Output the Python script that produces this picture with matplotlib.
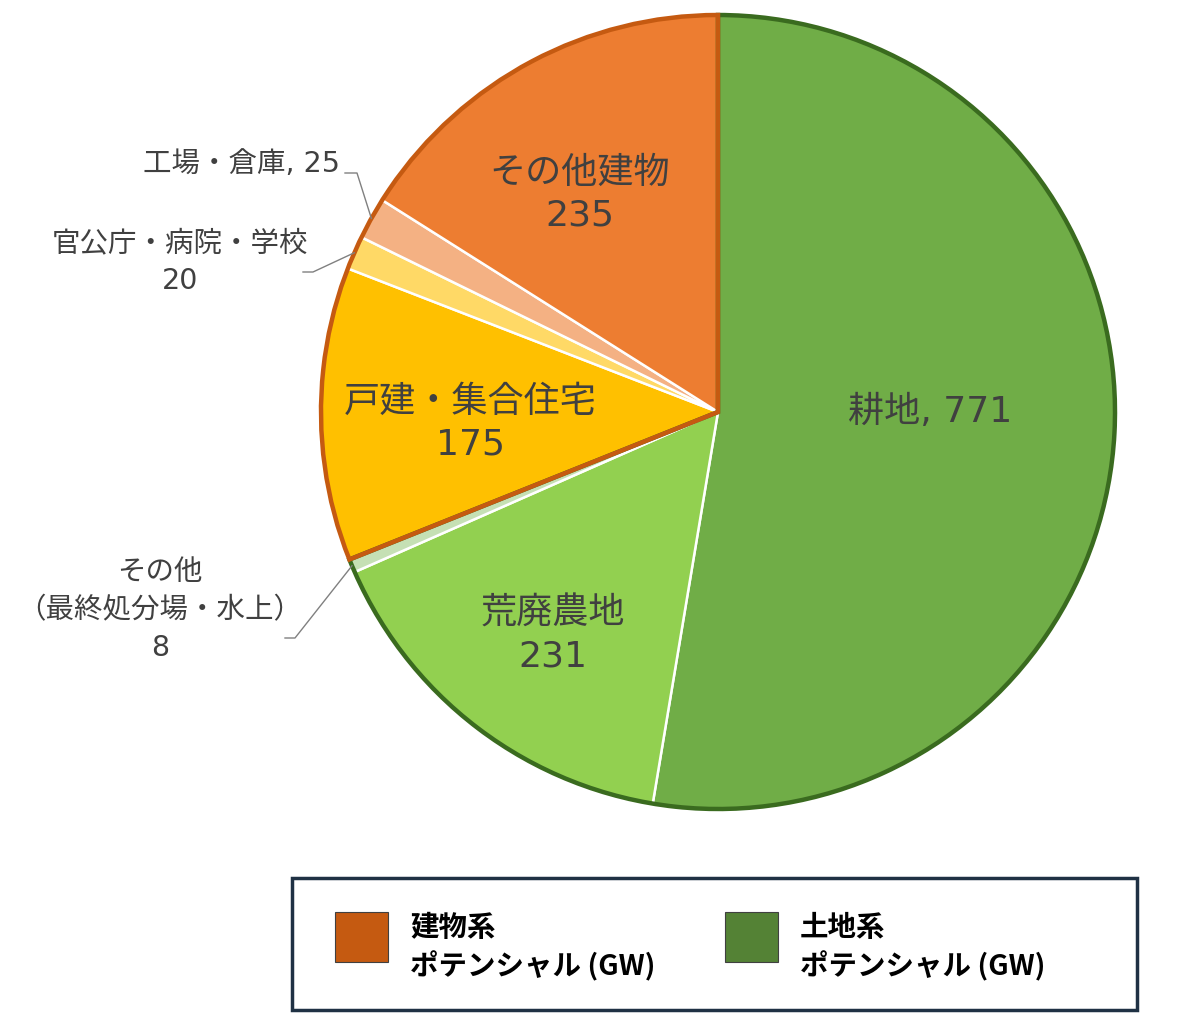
import numpy as np
import matplotlib
matplotlib.use("Agg")
import matplotlib.pyplot as plt
from matplotlib.patches import Wedge, Rectangle

plt.rcParams['font.family'] = ['DejaVu Sans', 'Noto Sans CJK JP']

# data (GW), clockwise from 12 o'clock
labels = ['耕地', '荒廃農地', 'その他\n（最終処分場・水上）', '戸建・集合住宅',
          '官公庁・病院・学校', '工場・倉庫', 'その他建物']
values = [771, 231, 8, 175, 20, 25, 235]
groups = ['land', 'land', 'land', 'bld', 'bld', 'bld', 'bld']
colors = ['#70AD47', '#92D050', '#C5E0B4', '#FFC000', '#FFD966', '#F4B183', '#ED7D31']
legend_labels = ['建物系\nポテンシャル (GW)', '土地系\nポテンシャル (GW)']
legend_colors = ['#C55A11', '#548235']
outline = {'bld': '#C55A11', 'land': '#3A6B1F'}

W, H = 1200, 1016
cx, cy, R = 718, H - 412, 397
txt = '#404040'

fig = plt.figure(figsize=(W / 100, H / 100), dpi=100)
ax = fig.add_axes([0, 0, 1, 1])

wedges, _ = ax.pie(values, colors=colors, startangle=90, counterclock=False,
                   center=(cx, cy), radius=R,
                   wedgeprops=dict(edgecolor='white', linewidth=1.8))

# angles of wedges (ccw degrees)
ends = 90 - 360 * np.cumsum(values) / sum(values)
starts = np.concatenate([[90], ends[:-1]])
mids = (starts + ends) / 2

# group outlines
for g in ['land', 'bld']:
    idx = [i for i, gg in enumerate(groups) if gg == g]
    t1 = min(ends[i] for i in idx)
    t2 = max(starts[i] for i in idx)
    ax.add_patch(Wedge((cx, cy), R, t1, t2, facecolor='none',
                       edgecolor=outline[g], linewidth=3.2, zorder=3))

def polar(ang, rf):
    a = np.deg2rad(ang)
    return cx + rf * R * np.cos(a), cy + rf * R * np.sin(a)

# inside labels (pixel position of text block centre)
inside = {0: ((930, 410), '耕地, 771'),
          6: ((580, 192), 'その他建物\n235'),
          3: ((470, 421), '戸建・集合住宅\n175'),
          1: ((553, 633), '荒廃農地\n231')}
for i, ((x, y), s) in inside.items():
    ax.text(x, H - y - 2, s, ha='center', va='center', fontsize=26, color=txt,
            linespacing=1.3, zorder=5)

# outside labels with leader lines
outside = {5: ('工場・倉庫, 25', (340, 162), 'right', (345, 357, 173)),
           4: ('官公庁・病院・学校\n20', (180, 260), 'center', (303, 313, 272)),
           2: ('その他\n（最終処分場・水上）\n8', (160, 608), 'center', (285, 295, 638))}
for i, (s, (x, y), ha, (x0, x1, ly)) in outside.items():
    ax.text(x, H - y - 2, s, ha=ha, va='center', fontsize=20.5, color=txt,
            linespacing=1.45, zorder=5)
    tx, ty = polar(mids[i], 1.0)
    ax.plot([x0, x1, tx], [H - ly, H - ly, ty], color='#808080', linewidth=1, zorder=4)

# legend box
ax.add_patch(Rectangle((292, H - 1010), 845, 132, facecolor='white',
                       edgecolor='#1F3144', linewidth=2.5, zorder=2))
for k, (lab, col) in enumerate(zip(legend_labels, legend_colors)):
    x0 = 335 + k * 390
    ax.add_patch(Rectangle((x0, H - 962), 53, 50, facecolor=col,
                           edgecolor='#404040', linewidth=0.8, zorder=3))
    ax.text(x0 + 75, H - 948, lab, ha='left', va='center', fontsize=20.5,
            fontweight='bold', color='black', linespacing=1.35, zorder=3,
            family=['Noto Sans CJK JP', 'DejaVu Sans'])

ax.set_xlim(0, W)
ax.set_ylim(0, H)
ax.set_aspect('equal')
ax.axis('off')

fig.savefig('out.png', dpi=100)
